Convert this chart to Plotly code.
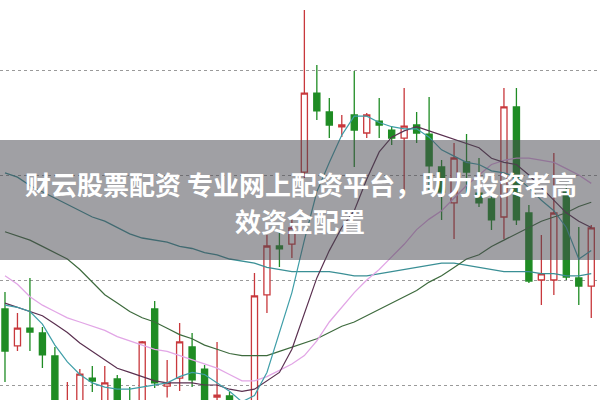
import plotly.graph_objects as go

idx = list(range(48))

opens = [9.362, 9.186, 9.271, 9.248, 9.138, 8.84, 8.86, 9.033, 8.90, 9.029,
         8.92, 8.87, 9.362, 8.995, 9.033, 9.181, 9.076, 8.943, 8.948, 8.86,
         8.90, 9.429, 9.662, 9.671, 10.014, 10.390, 10.300, 10.229, 10.286, 10.200,
         10.257, 10.214, 10.176, 10.238, 10.195, 10.038, 9.867, 10.062, 9.914, 9.886,
         9.800, 10.324, 9.819, 9.500, 9.500, 9.929, 9.510, 9.471]
highs = [9.443, 9.343, 9.510, 9.276, 9.181, 9.014, 9.076, 9.090, 9.090, 9.048,
         8.990, 9.210, 9.400, 9.119, 9.295, 9.248, 9.095, 9.205, 8.967, 8.92,
         9.533, 9.714, 9.729, 9.786, 10.786, 10.524, 10.367, 10.286, 10.495, 10.295,
         10.367, 10.233, 10.414, 10.300, 10.371, 10.071, 10.152, 10.195, 10.081, 9.929,
         10.414, 10.414, 9.857, 9.714, 10.105, 9.952, 9.752, 9.762]
lows = [9.014, 9.162, 9.162, 9.081, 8.80, 8.80, 8.82, 8.967, 8.86, 8.84,
        8.83, 8.85, 8.986, 8.94, 8.971, 8.990, 8.86, 8.88, 8.83, 8.80,
        8.88, 9.343, 9.562, 9.605, 9.986, 10.262, 10.176, 10.181, 10.038, 10.176,
        10.176, 10.143, 9.905, 10.152, 9.929, 9.786, 9.695, 9.905, 9.848, 9.738,
        9.695, 9.762, 9.486, 9.381, 9.429, 9.500, 9.381, 9.319]
closes = [9.162, 9.271, 9.252, 9.143, 8.84, 8.90, 9.052, 9.019, 9.010, 8.88,
          8.86, 9.205, 9.010, 9.010, 9.205, 9.024, 8.90, 8.952, 8.85, 8.90,
          9.424, 9.662, 9.648, 9.748, 10.390, 10.305, 10.238, 10.238, 10.214, 10.286,
          10.238, 10.176, 10.233, 10.200, 10.043, 9.919, 10.081, 10.014, 9.867, 9.786,
          10.324, 9.786, 9.495, 9.529, 9.819, 9.514, 9.471, 9.748]

ma5 = [9.38, 9.37, 9.35, 9.29, 9.19, 9.11, 9.05, 9.01, 8.99, 8.98,
       8.98, 8.99, 9.00, 9.01, 9.04, 9.06, 9.05, 9.01, 8.97, 8.92,
       8.95, 9.06, 9.25, 9.44, 9.69, 9.92, 10.06, 10.19, 10.28, 10.28,
       10.25, 10.23, 10.22, 10.22, 10.18, 10.12, 10.09, 10.06, 10.05, 10.02,
       10.01, 9.99, 9.94, 9.88, 9.83, 9.75, 9.60, 9.64]
ma10 = [9.39, 9.37, 9.35, 9.33, 9.29, 9.25, 9.20, 9.16, 9.12, 9.08,
        9.06, 9.04, 9.02, 9.01, 9.01, 9.01, 9.00, 9.00, 8.98, 8.97,
        8.98, 9.02, 9.06, 9.17, 9.34, 9.51, 9.64, 9.75, 9.83, 9.98,
        10.11, 10.18, 10.21, 10.23, 10.21, 10.19, 10.17, 10.15, 10.13, 10.08,
        10.06, 10.05, 10.00, 9.94, 9.88, 9.82, 9.78, 9.75]
ma20 = [9.52, 9.48, 9.42, 9.38, 9.35, 9.32, 9.30, 9.28, 9.26, 9.23,
        9.21, 9.19, 9.17, 9.16, 9.14, 9.12, 9.10, 9.08, 9.05, 9.02,
        9.02, 9.04, 9.07, 9.10, 9.14, 9.21, 9.30, 9.37, 9.44, 9.50,
        9.55, 9.61, 9.67, 9.74, 9.79, 9.83, 9.89, 9.95, 10.00, 10.05,
        10.07, 10.08, 10.08, 10.07, 10.06, 10.03, 10.00, 9.96]
ma60 = [9.73, 9.71, 9.69, 9.66, 9.63, 9.60, 9.55, 9.49, 9.43, 9.39,
        9.35, 9.32, 9.30, 9.27, 9.24, 9.22, 9.19, 9.17, 9.15, 9.14,
        9.14, 9.14, 9.16, 9.18, 9.20, 9.22, 9.25, 9.28, 9.30, 9.33,
        9.36, 9.39, 9.42, 9.45, 9.49, 9.52, 9.56, 9.60, 9.62, 9.66,
        9.69, 9.72, 9.75, 9.78, 9.80, 9.82, 9.85, 9.87]
ma120 = [10.01, 9.99, 9.95, 9.92, 9.89, 9.86, 9.83, 9.80, 9.78, 9.75,
         9.72, 9.70, 9.69, 9.68, 9.66, 9.65, 9.63, 9.62, 9.60, 9.59,
         9.58, 9.56, 9.55, 9.54, 9.54, 9.54, 9.54, 9.53, 9.52, 9.52,
         9.53, 9.54, 9.55, 9.56, 9.57, 9.58, 9.58, 9.57, 9.56, 9.55,
         9.54, 9.54, 9.54, 9.53, 9.53, 9.52, 9.52, 9.53]

grid_levels = [9.0, 9.5, 10.0, 10.5]

line1 = "财云股票配资 专业网上配资平台，助力投资者高"
line2 = "效资金配置"

fig = go.Figure()

ma_specs = [
    (ma120, "#3a8f95", 1.3),
    (ma60, "#3d6a3d", 1.2),
    (ma20, "#e2a6e6", 1.3),
    (ma10, "#5a3050", 1.2),
    (ma5, "#3f9ea8", 1.2),
]
for vals, col, w in ma_specs:
    fig.add_trace(go.Scatter(x=idx, y=vals, mode="lines",
                             line=dict(color=col, width=w),
                             hoverinfo="skip", showlegend=False))

fig.add_trace(go.Candlestick(
    x=idx, open=opens, high=highs, low=lows, close=closes,
    increasing=dict(line=dict(color="#c8383c", width=1.3), fillcolor="#ffffff"),
    decreasing=dict(line=dict(color="#1f8c24", width=1.3), fillcolor="#1f8c24"),
    whiskerwidth=0, showlegend=False,
))

fig.update_layout(
    width=600, height=400,
    margin=dict(l=0, r=0, t=0, b=0),
    paper_bgcolor="white", plot_bgcolor="white",
    showlegend=False,
    xaxis=dict(range=[-0.4, 47.7], showgrid=False, zeroline=False,
               showticklabels=False, rangeslider=dict(visible=False),
               showline=False, ticks=""),
    yaxis=dict(range=[8.9286, 10.8333], tickvals=grid_levels,
               showgrid=True, gridcolor="#9a9a9a", griddash="dot", gridwidth=1,
               zeroline=False, showticklabels=False, showline=False, ticks=""),
    shapes=[dict(type="rect", xref="paper", yref="paper",
                 x0=0, x1=1, y0=0.35, y1=0.65,
                 fillcolor="rgba(72,72,80,0.52)", line=dict(width=0),
                 layer="above")],
    annotations=[
        dict(text="<b>" + line1 + "</b>", xref="paper", yref="paper",
             x=0.502, y=0.5425, xanchor="center", yanchor="middle",
             showarrow=False,
             font=dict(family="Noto Sans CJK SC", size=26, color="white")),
        dict(text="<b>" + line2 + "</b>", xref="paper", yref="paper",
             x=0.5, y=0.45, xanchor="center", yanchor="middle",
             showarrow=False,
             font=dict(family="Noto Sans CJK SC", size=26, color="white")),
    ],
)

fig.write_html("out.html",
               config={"displayModeBar": False},
               post_script="document.body.style.margin='0';document.body.style.overflow='hidden';")
